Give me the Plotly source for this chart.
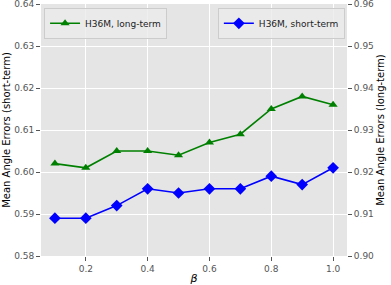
import plotly.graph_objects as go

beta = [0.1, 0.2, 0.3, 0.4, 0.5, 0.6, 0.7, 0.8, 0.9, 1.0]
long_term = [0.922, 0.921, 0.925, 0.925, 0.924, 0.927, 0.929, 0.935, 0.938, 0.936]
short_term = [0.589, 0.589, 0.592, 0.596, 0.595, 0.596, 0.596, 0.599, 0.597, 0.601]

left_ticks = [0.58, 0.59, 0.60, 0.61, 0.62, 0.63, 0.64]
right_ticks = [0.90, 0.91, 0.92, 0.93, 0.94, 0.95, 0.96]
x_ticks = [0.2, 0.4, 0.6, 0.8, 1.0]

FONT = "DejaVu Sans"
TICKC = "#555555"

fig = go.Figure()
fig.add_trace(go.Scatter(
    x=beta, y=long_term, name="H36M, long-term", yaxis="y2",
    mode="lines+markers", line=dict(color="green", width=1.6),
    marker=dict(symbol="triangle-up", size=8, color="green"),
    legend="legend",
))
fig.add_trace(go.Scatter(
    x=beta, y=short_term, name="H36M, short-term", yaxis="y",
    mode="lines+markers", line=dict(color="blue", width=1.6),
    marker=dict(symbol="diamond", size=9, color="blue"),
    legend="legend2",
))

axis_common = dict(
    showgrid=True, gridcolor="white", gridwidth=1, zeroline=False,
    ticks="outside", ticklen=4, tickcolor=TICKC, tickwidth=1,
    tickfont=dict(family=FONT, size=9, color=TICKC),
    showline=False, ticklabeloverflow="allow",
)

fig.update_layout(
    width=391, height=285,
    margin=dict(l=41, r=44, t=4, b=29, autoexpand=False),
    paper_bgcolor="white", plot_bgcolor="#E5E5E5",
    font=dict(family=FONT, size=9, color="black"),
    xaxis=dict(range=[0.055, 1.045], tickvals=x_ticks,
               ticktext=["0.2", "0.4", "0.6", "0.8", "1.0"],
               title=dict(text="<i>β</i>", font=dict(family=FONT, size=11, color="black"), standoff=1),
               **axis_common),
    yaxis=dict(range=[0.58, 0.64], tickvals=left_ticks,
               ticktext=[f"{v:.2f}" for v in left_ticks],
               title=dict(text="Mean Angle Errors (short-term)", font=dict(family=FONT, size=10, color="black"), standoff=1),
               **axis_common),
    yaxis2=dict(range=[0.90, 0.96], tickvals=right_ticks,
                ticktext=[f"{v:.2f}" for v in right_ticks],
                overlaying="y", side="right",
                title=dict(text="Mean Angle Errors (long-term)", font=dict(family=FONT, size=10, color="black"), standoff=3),
                **{**axis_common, "showgrid": False}),
    legend=dict(x=0.01, y=0.985, xanchor="left", yanchor="top",
                bgcolor="rgba(235,235,235,0.8)", bordercolor="#CCCCCC", borderwidth=1,
                font=dict(family=FONT, size=9, color="#222222"),
                itemwidth=30, tracegroupgap=0),
    legend2=dict(x=0.993, y=0.985, xanchor="right", yanchor="top",
                 bgcolor="rgba(235,235,235,0.8)", bordercolor="#CCCCCC", borderwidth=1,
                 font=dict(family=FONT, size=9, color="#222222"),
                 itemwidth=30, tracegroupgap=0),
    showlegend=True,
)

fig.write_html(
    "out.html",
    config={"displayModeBar": False},
    post_script="document.body.style.margin='0';document.body.style.padding='0';document.body.style.overflow='hidden';",
)
